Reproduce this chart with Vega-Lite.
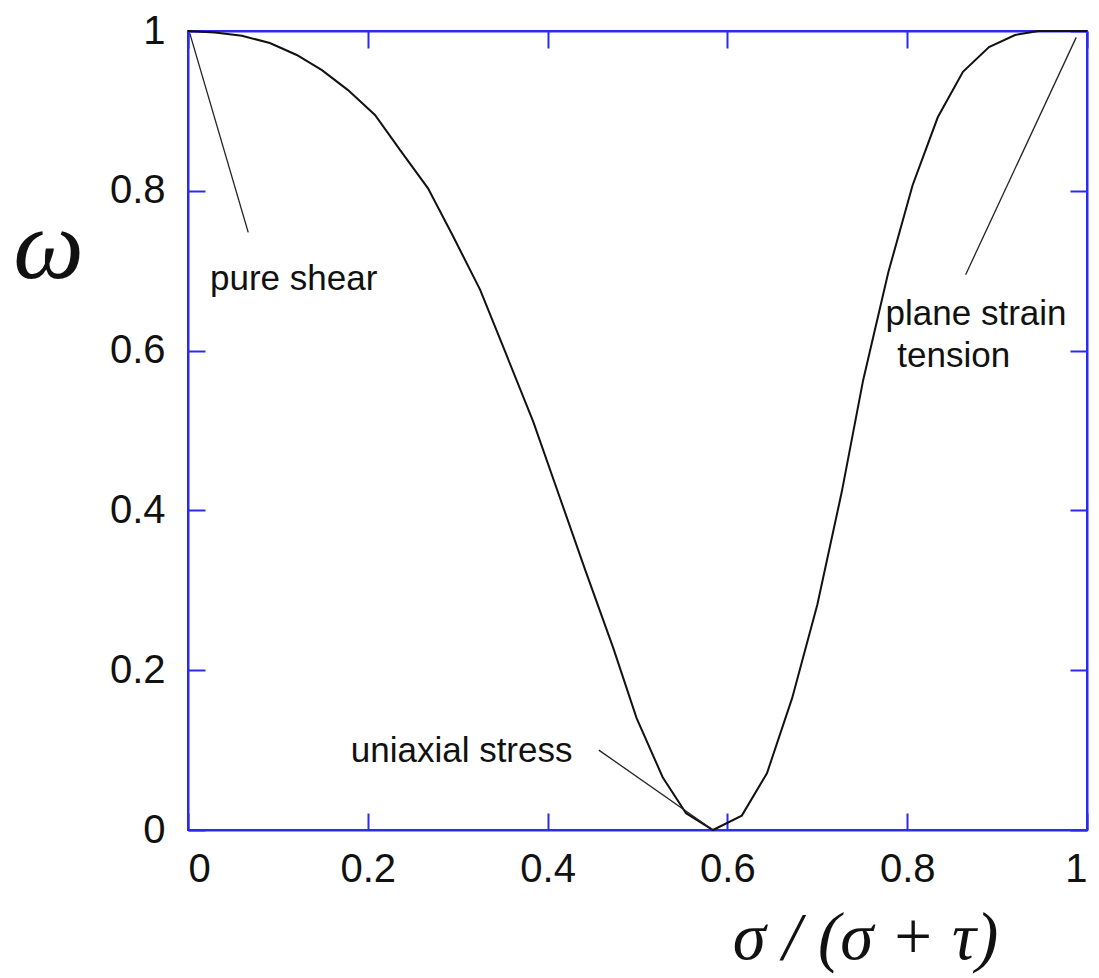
{
  "$schema": "https://vega.github.io/schema/vega-lite/v6.json",
  "width": 899,
  "height": 799,
  "autosize": {"type": "none"},
  "padding": {"left": 188, "top": 31, "right": 12, "bottom": 148},
  "background": "white",
  "config": {
    "view": {"stroke": "#2a2af0", "strokeWidth": 2},
    "axis": {
      "grid": false,
      "domainColor": "#2a2af0",
      "domainWidth": 2,
      "tickColor": "#2a2af0",
      "tickWidth": 2,
      "tickSize": -17,
      "labelFont": "Liberation Sans",
      "labelFontSize": 40,
      "labelColor": "#111111",
      "labelPadding": 40,
      "format": "~g"
    }
  },
  "datasets": {
    "curve": [
      {"s": 0.0, "w": 1.0},
      {"s": 0.03, "w": 0.998},
      {"s": 0.06, "w": 0.994},
      {"s": 0.091, "w": 0.985},
      {"s": 0.121, "w": 0.970},
      {"s": 0.149, "w": 0.951},
      {"s": 0.178, "w": 0.926},
      {"s": 0.208, "w": 0.895},
      {"s": 0.236, "w": 0.851},
      {"s": 0.267, "w": 0.803},
      {"s": 0.294, "w": 0.745},
      {"s": 0.325, "w": 0.676},
      {"s": 0.353, "w": 0.598},
      {"s": 0.384, "w": 0.511},
      {"s": 0.413, "w": 0.418},
      {"s": 0.442, "w": 0.325},
      {"s": 0.473, "w": 0.228},
      {"s": 0.499, "w": 0.140},
      {"s": 0.528, "w": 0.066},
      {"s": 0.554, "w": 0.021},
      {"s": 0.584, "w": 0.0},
      {"s": 0.616, "w": 0.018},
      {"s": 0.644, "w": 0.071},
      {"s": 0.672, "w": 0.165},
      {"s": 0.700, "w": 0.282},
      {"s": 0.727, "w": 0.422},
      {"s": 0.751, "w": 0.563},
      {"s": 0.779, "w": 0.698},
      {"s": 0.806, "w": 0.807},
      {"s": 0.834, "w": 0.892},
      {"s": 0.862, "w": 0.949},
      {"s": 0.891, "w": 0.980},
      {"s": 0.920, "w": 0.995},
      {"s": 0.946, "w": 1.0},
      {"s": 1.0, "w": 1.0}
    ],
    "leaders": [
      {"s": 0.002, "w": 0.997, "s2": 0.067, "w2": 0.748},
      {"s": 0.988, "w": 0.992, "s2": 0.865, "w2": 0.695},
      {"s": 0.457, "w": 0.100, "s2": 0.584, "w2": 0.0}
    ],
    "labels": [
      {"s": 0.0245, "w": 0.676, "label": "pure shear"},
      {"s": 0.776, "w": 0.632, "label": "plane strain"},
      {"s": 0.789, "w": 0.579, "label": "tension"},
      {"s": 0.181, "w": 0.085, "label": "uniaxial stress"}
    ]
  },
  "resolve": {"axis": {"x": "independent", "y": "independent"}},
  "layer": [
    {
      "data": {"name": "curve"},
      "mark": {"type": "line", "color": "#111111", "strokeWidth": 2},
      "encoding": {
        "x": {
          "field": "s", "type": "quantitative",
          "scale": {"domain": [0, 1], "nice": false, "zero": false},
          "axis": {
            "orient": "bottom",
            "values": [0, 0.2, 0.4, 0.6, 0.8, 1],
            "labelPadding": 36,
            "title": "σ / (σ + τ)",
            "titleFont": "Liberation Serif",
            "titleFontStyle": "italic",
            "titleFontWeight": "normal",
            "titleFontSize": 67,
            "titleColor": "#111111",
            "titleAlign": "center",
            "titleBaseline": "alphabetic",
            "titleAnchor": null,
            "titleX": 677,
            "titleY": 128
          }
        },
        "y": {
          "field": "w", "type": "quantitative",
          "scale": {"domain": [0, 1], "nice": false, "zero": false},
          "axis": {
            "orient": "left",
            "values": [0, 0.2, 0.4, 0.6, 0.8, 1],
            "title": "ω",
            "titleFont": "Liberation Serif",
            "titleFontStyle": "italic",
            "titleFontWeight": "normal",
            "titleFontSize": 100,
            "titleColor": "#111111",
            "titleAngle": 0,
            "titleAlign": "center",
            "titleBaseline": "alphabetic",
            "titleX": -140,
            "titleY": 246
          }
        }
      }
    },
    {
      "data": {"name": "leaders"},
      "mark": {"type": "rule", "color": "#222222", "strokeWidth": 1.3},
      "encoding": {
        "x": {
          "field": "s", "type": "quantitative",
          "axis": {"orient": "top", "values": [0, 0.2, 0.4, 0.6, 0.8, 1], "labels": false, "title": null}
        },
        "y": {
          "field": "w", "type": "quantitative",
          "axis": {"orient": "right", "values": [0, 0.2, 0.4, 0.6, 0.8, 1], "labels": false, "title": null}
        },
        "x2": {"field": "s2"},
        "y2": {"field": "w2"}
      }
    },
    {
      "data": {"name": "labels"},
      "mark": {
        "type": "text",
        "font": "Liberation Sans",
        "fontSize": 35,
        "color": "#111111",
        "align": "left",
        "baseline": "alphabetic"
      },
      "encoding": {
        "x": {"field": "s", "type": "quantitative", "axis": null},
        "y": {"field": "w", "type": "quantitative", "axis": null},
        "text": {"field": "label"}
      }
    }
  ]
}
